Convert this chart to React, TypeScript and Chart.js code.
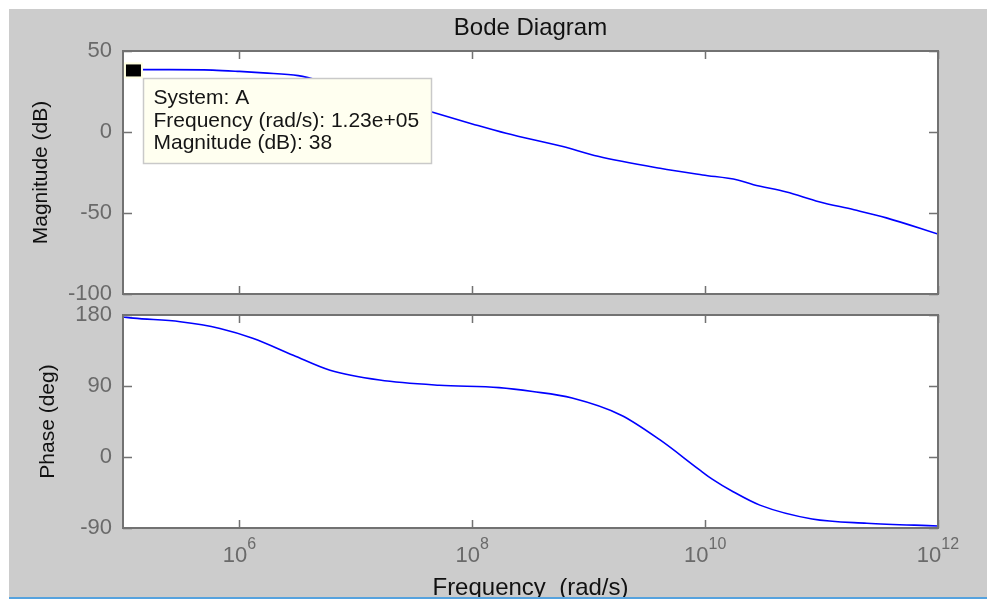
import { useEffect, useRef } from "react";
import { Chart, registerables } from "chart.js";

Chart.register(...registerables);

const FONT = "'Liberation Sans', Arial, Helvetica, sans-serif";

// Magnitude curve (rad/s, dB)
const magFreq = [1e5, 2.5e5, 5.9e5, 1e6, 1.6e6, 3.2e6, 6.3e6, 1.6e7, 4.5e7, 1e8, 1.95e8, 6e8, 1.2e9, 4.1e9, 9.5e9, 1.9e10, 2.6e10, 5e10, 9.5e10, 1.9e11, 3.6e11, 1e12];
const magDb = [38.5, 38.5, 38.2, 37.4, 36.5, 34.8, 29.5, 22, 12.3, 5, -0.8, -9, -15, -22.4, -26.5, -29.6, -32.5, -37, -43, -48, -53, -63];

// Phase curve (rad/s, deg)
const phaseFreq = [1e5, 1.23e5, 3.1e5, 6.8e5, 1.3e6, 2.9e6, 6e6, 1.6e7, 5.2e7, 1.7e8, 3.3e8, 7.2e8, 1.9e9, 4.1e9, 8.9e9, 1.15e10, 1.74e10, 2.95e10, 8.3e10, 2.45e11, 1e12];
const phaseDeg = [177.5, 176, 171.5, 163, 150.5, 129, 110, 97.6, 91, 88, 83, 74.7, 53, 21.6, -16, -28, -44, -61, -78.5, -84, -87.4];

// Axes / ticks
const freqMin = 1e5;
const freqMax = 1e12;
const decadeTicks = [1e6, 1e8, 1e10, 1e12];
const decadeExp = ["6", "8", "10", "12"];
const magTicks = [-100, -50, 0, 50];
const phaseTicks = [-90, 0, 90, 180];

// Texts
const chartTitle = "Bode Diagram";
const xTitle = "Frequency  (rad/s)";
const magTitle = "Magnitude (dB)";
const phaseTitle = "Phase (deg)";
const tipFreq = 1.23e5;
const tipMag = 38;
const tipLines = ["System: A", "Frequency (rad/s): 1.23e+05", "Magnitude (dB): 38"];

const LINE_COLOR = "#0000ff";
const TICK_TEXT = "#6a6a6a";
const FRAME = "#727272";

function framePlugin(yTicks: number[]) {
  return {
    id: "frame",
    beforeDraw(chart: any) {
      const { ctx, chartArea: a } = chart;
      ctx.save();
      ctx.fillStyle = "#ffffff";
      ctx.fillRect(a.left, a.top, a.right - a.left, a.bottom - a.top);
      ctx.restore();
    },
    afterDatasetsDraw(chart: any) {
      const { ctx, chartArea: a, scales } = chart;
      ctx.save();
      ctx.strokeStyle = FRAME;
      ctx.lineWidth = 1.5;
      ctx.beginPath();
      for (const v of decadeTicks) {
        const px = Math.round(scales.x.getPixelForValue(v)) + 0.5;
        ctx.moveTo(px, a.top);
        ctx.lineTo(px, a.top + 8);
        ctx.moveTo(px, a.bottom);
        ctx.lineTo(px, a.bottom - 8);
      }
      for (const v of yTicks) {
        const py = Math.round(scales.y.getPixelForValue(v)) + 0.5;
        ctx.moveTo(a.left, py);
        ctx.lineTo(a.left + 9, py);
        ctx.moveTo(a.right, py);
        ctx.lineTo(a.right - 9, py);
      }
      ctx.stroke();
      ctx.lineWidth = 2;
      ctx.strokeRect(a.left, a.top, a.right - a.left, a.bottom - a.top);
      ctx.restore();
    },
  };
}

const topTextPlugin = {
  id: "topText",
  afterDraw(chart: any) {
    const { ctx, chartArea: a, scales } = chart;
    ctx.save();
    // title
    ctx.fillStyle = "#111111";
    ctx.font = `24px ${FONT}`;
    ctx.textAlign = "center";
    ctx.textBaseline = "alphabetic";
    ctx.fillText(chartTitle, (a.left + a.right) / 2, a.top - 16);

    // data tip marker
    const mx = scales.x.getPixelForValue(tipFreq);
    const my = scales.y.getPixelForValue(tipMag);
    ctx.fillStyle = "#ffffe1";
    ctx.fillRect(mx - 9.5, my - 8, 19, 16);
    ctx.fillStyle = "#000000";
    ctx.fillRect(mx - 7.5, my - 6, 15, 12);

    // data tip box
    const bx = Math.round(mx + 10) + 0.5;
    const by = Math.round(my + 8) + 0.5;
    const bw = 288;
    const bh = 85;
    ctx.fillStyle = "#fffff0";
    ctx.fillRect(bx, by, bw, bh);
    ctx.strokeStyle = "#c9c9c9";
    ctx.lineWidth = 1.5;
    ctx.strokeRect(bx, by, bw, bh);
    ctx.fillStyle = "#151515";
    ctx.font = `21px ${FONT}`;
    ctx.textAlign = "left";
    const baselines = [25.5, 48.5, 70.5];
    tipLines.forEach((t, i) => ctx.fillText(t, bx + 10, by + baselines[i]));
    ctx.restore();
  },
};

const bottomTextPlugin = {
  id: "bottomText",
  afterDraw(chart: any) {
    const { ctx, chartArea: a, scales } = chart;
    ctx.save();
    ctx.fillStyle = TICK_TEXT;
    ctx.textAlign = "left";
    ctx.textBaseline = "alphabetic";
    decadeTicks.forEach((v, i) => {
      const px = scales.x.getPixelForValue(v);
      ctx.font = `22px ${FONT}`;
      const w1 = ctx.measureText("10").width;
      ctx.font = `16px ${FONT}`;
      const w2 = ctx.measureText(decadeExp[i]).width;
      const start = px - (w1 + w2) / 2;
      ctx.font = `22px ${FONT}`;
      ctx.fillText("10", start, a.bottom + 34);
      ctx.font = `16px ${FONT}`;
      ctx.fillText(decadeExp[i], start + w1, a.bottom + 21);
    });
    ctx.fillStyle = "#111111";
    ctx.font = `24px ${FONT}`;
    ctx.textAlign = "center";
    ctx.fillText(xTitle, (a.left + a.right) / 2, a.bottom + 67);
    ctx.restore();
  },
};

function makeConfig(
  freqs: number[],
  vals: number[],
  yMin: number,
  yMax: number,
  step: number,
  yTitle: string,
  titlePad: number,
  padding: any,
  plugins: any[]
): any {
  return {
    type: "line",
    data: {
      datasets: [
        {
          data: freqs.map((f, i) => ({ x: f, y: vals[i] })),
          borderColor: LINE_COLOR,
          borderWidth: 1.6,
          pointRadius: 0,
          fill: false,
          cubicInterpolationMode: "monotone",
        },
      ],
    },
    options: {
      responsive: false,
      maintainAspectRatio: false,
      animation: false,
      devicePixelRatio: 1,
      layout: { padding },
      plugins: { legend: { display: false }, tooltip: { enabled: false }, title: { display: false } },
      events: [],
      scales: {
        x: { type: "logarithmic", min: freqMin, max: freqMax, display: false },
        y: {
          type: "linear",
          min: yMin,
          max: yMax,
          ticks: {
            stepSize: step,
            color: TICK_TEXT,
            font: { family: FONT, size: 22 },
            padding: 11,
          },
          grid: { display: false, drawTicks: false },
          border: { display: false },
          title: {
            display: true,
            text: yTitle,
            color: "#111111",
            font: { family: FONT, size: 21 },
            padding: { top: titlePad, bottom: 0 },
          },
          afterFit: (s: any) => {
            s.width = 114;
          },
        },
      },
    },
    plugins,
  };
}

export default function App() {
  const topRef = useRef<HTMLCanvasElement>(null);
  const botRef = useRef<HTMLCanvasElement>(null);

  useEffect(() => {
    const c1 = new Chart(
      topRef.current as HTMLCanvasElement,
      makeConfig(magFreq, magDb, magTicks[0], magTicks[magTicks.length - 1], 50, magTitle, 20, { left: 0, right: 49, top: 42, bottom: 35 }, [
        framePlugin(magTicks),
        topTextPlugin,
      ])
    );
    const c2 = new Chart(
      botRef.current as HTMLCanvasElement,
      makeConfig(phaseFreq, phaseDeg, phaseTicks[0], phaseTicks[phaseTicks.length - 1], 90, phaseTitle, 27, { left: 0, right: 49, top: 36, bottom: 69 }, [
        framePlugin(phaseTicks),
        bottomTextPlugin,
      ])
    );
    return () => {
      c1.destroy();
      c2.destroy();
    };
  }, []);

  return (
    <>
      <div style={{ position: "absolute", left: 9, top: 9, width: 978, height: 588, background: "#cccccc", overflow: "hidden" }}>
        <canvas ref={topRef} width={978} height={320} style={{ position: "absolute", left: 0, top: 0, width: 978, height: 320 }} />
        <canvas ref={botRef} width={978} height={318} style={{ position: "absolute", left: 0, top: 270, width: 978, height: 318 }} />
      </div>
      <div style={{ position: "absolute", left: 9, top: 597, width: 978, height: 2, background: "#55a2de" }} />
    </>
  );
}
